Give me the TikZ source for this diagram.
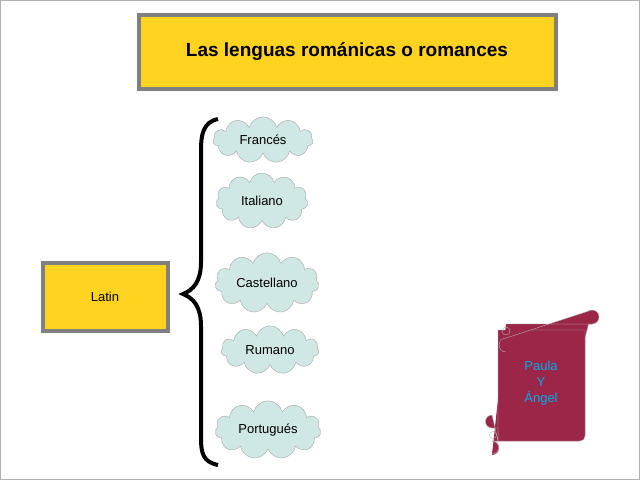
\documentclass[tikz,border=0pt]{standalone}
\usepackage{fontspec}
\setmainfont{Liberation Sans}
\usetikzlibrary{shapes.symbols}
\definecolor{yel}{HTML}{FFD320}
\definecolor{cl}{HTML}{CFE7E5}
\definecolor{scr}{HTML}{9B2647}
\begin{document}
\begin{tikzpicture}[x=1pt,y=-1pt,
  ybox/.style={draw=gray,line width=4pt,fill=yel,inner sep=0pt},
  lang/.style={cloud,cloud puffs=11,aspect=2,draw=gray!70,fill=cl,font=\fontsize{13}{15}\selectfont,inner sep=0pt}]
\useasboundingbox (0,0) rectangle (640,480);
\draw[gray!60,line width=1pt] (0.5,0.5) rectangle (639.5,479.5);
\node[ybox,minimum width=417pt,minimum height=74pt,font=\bfseries\fontsize{19}{22}\selectfont] (title) at (347,52) {Las lenguas románicas o romances};
\node[ybox,minimum width=125pt,minimum height=68pt,font=\fontsize{13}{15}\selectfont] (latin) at (105,297) {Latin};
\draw[line width=4pt] (218,119) .. controls (203,122) and (201,135) .. (201,150) -- (201,262) .. controls (201,282) and (193,290) .. (183,294) .. controls (193,298) and (201,306) .. (201,326) -- (201,438) .. controls (201,453) and (203,462) .. (218,465);
\node[lang,minimum width=100pt,minimum height=44pt] (fr) at (263,140) {Francés};
\node[lang,minimum width=92pt,minimum height=56pt] (it) at (262,201) {Italiano};
\node[lang,minimum width=104pt,minimum height=60pt] (ca) at (267,283) {Castellano};
\node[lang,minimum width=98pt,minimum height=46pt] (ru) at (270,350) {Rumano};
\node[lang,minimum width=106pt,minimum height=52pt] (po) at (268,430) {Portugués};
% scroll
\fill[scr,draw=gray!60] (506,324) -- (592,324) arc (-90:90:-7) -- (585,338) -- (585,434) .. controls (585,438) and (582,441) .. (578,441) -- (492,441) arc (90:270:-7 and -7) ;
\fill[scr,draw=gray!60] (498,330) -- (585,330) -- (585,436) arc(0:90:5) -- (498,441) -- cycle;
\fill[scr,draw=gray!60] (506,324) -- (592,324) arc (90:-90:7) -- (506,338) arc (-90:-270:7);
\draw[gray!60] (506,331) circle (4);
\fill[scr,draw=gray!60] (498,428) -- (498,441) -- (492,441) arc (90:270:-6.5) ;
\fill[scr,draw=gray!60] (492,428) arc (90:270:6.5) -- (498,441) -- (498,428) -- cycle;
\draw[gray!60] (493,435) circle (3.5);
\node[text=cyan,align=center,font=\fontsize{13}{16}\selectfont] (names) at (541,383) {Paula\\Y\\Ángel};
\end{tikzpicture}
\end{document}
